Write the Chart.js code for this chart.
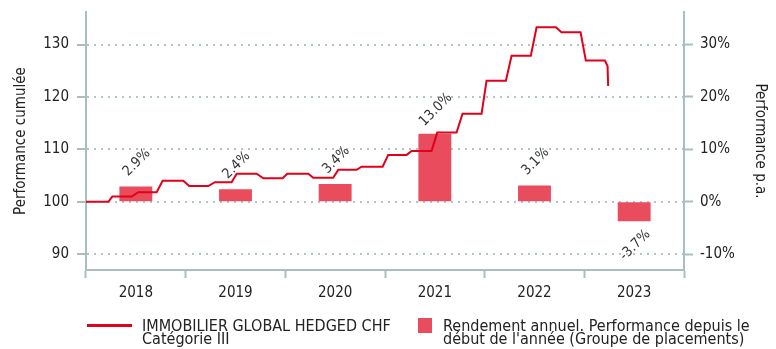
<!DOCTYPE html>
<html lang="fr">
<head>
    <meta charset="UTF-8">
    <title>Performance cumulée</title>
    <script src="https://cdn.jsdelivr.net/npm/chart.js"></script>
    <style>
        body { margin: 0; background: #fff; }
        .wrap {
            position: relative;
            width: 776px;
            height: 349px;
            font-family: "DejaVu Sans Condensed", "DejaVu Sans", sans-serif;
            color: #222;
        }
        .legend-item {
            position: absolute;
            font-size: 16px;
            line-height: 13px;
        }
        .swatch { position: absolute; }
    </style>
</head>
<body>
<div class="wrap">
    <canvas id="perfChart" width="776" height="349"></canvas>

    <!-- légende -->
    <div class="swatch" style="left:87px; top:324px; width:45px; height:3px; background:#e2001a;"></div>
    <div class="legend-item" style="left:142px; top:319px;">IMMOBILIER GLOBAL HEDGED CHF<br>Catégorie III</div>
    <div class="swatch" style="left:418px; top:318px; width:14px; height:15px; background:#e84c5d;"></div>
    <div class="legend-item" style="left:443px; top:319px;">Rendement annuel. Performance depuis le<br>début de l'année (Groupe de placements)</div>
</div>

<script>
    // années (catégories des barres)
    const years = ["2018", "2019", "2020", "2021", "2022", "2023"];
    // rendement annuel en %
    const annualReturn = [2.9, 2.4, 3.4, 13.0, 3.1, -3.7];

    // performance cumulée (base 100), dates en années décimales
    const navDates = [
        2018.000, 2018.224, 2018.264, 2018.458, 2018.525, 2018.709, 2018.769, 2018.976,
        2019.036, 2019.227, 2019.294, 2019.461, 2019.512, 2019.712, 2019.779, 2019.973,
        2020.019, 2020.230, 2020.280, 2020.480, 2020.531, 2020.715, 2020.765, 2020.976,
        2021.032, 2021.217, 2021.267, 2021.467, 2021.524, 2021.718, 2021.778, 2021.969,
        2022.019, 2022.213, 2022.270, 2022.463, 2022.521, 2022.714, 2022.771, 2022.962,
        2023.015, 2023.206, 2023.233, 2023.239
    ];
    const navValues = [
        100.0, 100.0, 101.0, 101.0, 101.85, 101.85, 104.0, 104.0,
        103.0, 103.0, 103.75, 103.75, 105.35, 105.35, 104.5, 104.5,
        105.35, 105.35, 104.6, 104.6, 106.1, 106.1, 106.7, 106.7,
        108.95, 108.95, 109.7, 109.7, 113.2, 113.2, 116.8, 116.8,
        123.1, 123.1, 127.85, 127.85, 133.3, 133.3, 132.35, 132.35,
        126.95, 126.95, 125.9, 122.1
    ];

    // graduations
    const leftTicks = [90, 100, 110, 120, 130];
    const rightTicks = [-10, 0, 10, 20, 30];

    const axisColor = '#a9bebe';
    const fontFamily = '"DejaVu Sans Condensed", "DejaVu Sans", sans-serif';

    Chart.defaults.font.family = fontFamily;
    Chart.defaults.font.size = 15;
    Chart.defaults.color = '#222';

    // étiquettes inclinées au-dessus / au-dessous des barres
    const barLabels = {
        id: 'barLabels',
        afterDatasetsDraw(chart) {
            const meta = chart.getDatasetMeta(1);
            const ctx = chart.ctx;
            ctx.save();
            ctx.font = '14px ' + fontFamily;
            ctx.fillStyle = '#333';
            ctx.textAlign = 'center';
            ctx.textBaseline = 'middle';
            meta.data.forEach((bar, i) => {
                const v = annualReturn[i];
                const y = v >= 0 ? bar.y - 24 : bar.y + 24;
                ctx.save();
                ctx.translate(bar.x + 1, y);
                ctx.rotate(-Math.PI / 4);
                ctx.fillText(v.toFixed(1) + '%', 0, 0);
                ctx.restore();
            });
            ctx.restore();
        }
    };

    // largeur fixe des axes verticaux, sans marge haute/basse
    function fixWidth(w) {
        return scale => {
            scale.width = w;
            scale.paddingTop = 0;
            scale.paddingBottom = 0;
        };
    }

    const ctx = document.getElementById('perfChart').getContext('2d');
    new Chart(ctx, {
        data: {
            labels: years,
            datasets: [
                {
                    type: 'line',
                    label: 'IMMOBILIER GLOBAL HEDGED CHF Catégorie III',
                    data: navDates.map((d, i) => ({ x: d, y: navValues[i] })),
                    xAxisID: 'x2',
                    yAxisID: 'y',
                    borderColor: '#e2001a',
                    borderWidth: 2,
                    pointRadius: 0,
                    tension: 0
                },
                {
                    type: 'bar',
                    label: "Rendement annuel. Performance depuis le début de l'année (Groupe de placements)",
                    data: annualReturn,
                    xAxisID: 'x',
                    yAxisID: 'y2',
                    backgroundColor: '#e84c5d',
                    grouped: false,
                    barPercentage: 0.33,
                    categoryPercentage: 1
                }
            ]
        },
        options: {
            responsive: false,
            animation: false,
            layout: { padding: { top: 12, bottom: 41, left: 0, right: 0 } },
            plugins: {
                legend: { display: false },
                tooltip: { enabled: false }
            },
            scales: {
                x: {
                    type: 'category',
                    offset: true,
                    border: { color: axisColor, width: 2 },
                    grid: {
                        offset: true,
                        drawOnChartArea: false,
                        tickLength: 8,
                        tickColor: axisColor,
                        tickWidth: 2
                    },
                    ticks: { padding: 6, maxRotation: 0 }
                },
                x2: {
                    type: 'linear',
                    display: false,
                    min: 2018,
                    max: 2024
                },
                y: {
                    position: 'left',
                    min: 87,
                    max: 136.2,
                    afterFit: fixWidth(86),
                    afterBuildTicks(scale) { scale.ticks = leftTicks.map(v => ({ value: v })); },
                    border: { color: axisColor, width: 2, dash: [2, 5] },
                    grid: {
                        color: '#b2c5c5',
                        lineWidth: 2,
                        tickLength: 9,
                        tickColor: axisColor,
                        tickWidth: 2
                    },
                    ticks: { padding: 8 },
                    title: {
                        display: true,
                        text: 'Performance cumulée',
                        padding: { top: 12, bottom: 0 }
                    }
                },
                y2: {
                    position: 'right',
                    min: -13,
                    max: 36.2,
                    afterFit: fixWidth(92),
                    afterBuildTicks(scale) { scale.ticks = rightTicks.map(v => ({ value: v })); },
                    border: { color: axisColor, width: 2 },
                    grid: {
                        drawOnChartArea: false,
                        tickLength: 9,
                        tickColor: axisColor,
                        tickWidth: 2
                    },
                    ticks: { padding: 7, callback: v => v + '%' },
                    title: {
                        display: true,
                        text: 'Performance p.a.',
                        padding: { top: 7, bottom: 0 }
                    }
                }
            }
        },
        plugins: [barLabels]
    });
</script>
</body>
</html>
